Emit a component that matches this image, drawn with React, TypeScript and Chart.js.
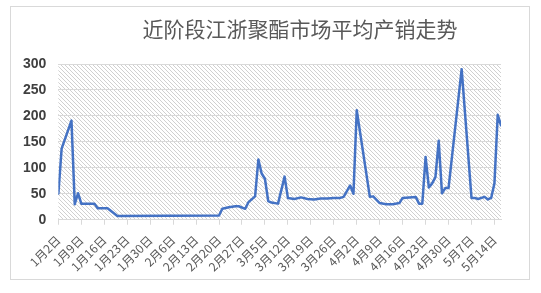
import React, { useEffect, useRef } from 'react';
import { Chart, registerables } from 'chart.js';

Chart.register(...registerables);

const TITLE = '近阶段江浙聚酯市场平均产销走势';
const YEAR = 2020;
const START_LABEL = '1月2日';
const END_LABEL = '5月16日';

const tickLabels = [
  '1月2日', '1月9日', '1月16日', '1月23日', '1月30日', '2月6日', '2月13日',
  '2月20日', '2月27日', '3月5日', '3月12日', '3月19日', '3月26日', '4月2日',
  '4月9日', '4月16日', '4月23日', '4月30日', '5月7日', '5月14日',
];

const yTicks = [0, 50, 100, 150, 200, 250, 300];

const pointDates = [
  '1月2日', '1月3日', '1月6日', '1月7日', '1月8日', '1月9日', '1月13日', '1月14日',
  '1月17日', '1月20日', '2月20日', '2月21日', '2月23日', '2月25日', '2月26日',
  '2月28日', '2月29日', '3月2日', '3月3日', '3月4日', '3月5日', '3月6日', '3月7日',
  '3月9日', '3月11日', '3月12日', '3月14日', '3月16日', '3月18日', '3月20日',
  '3月22日', '3月24日', '3月26日', '3月28日', '3月29日', '3月31日', '4月1日',
  '4月2日', '4月6日', '4月7日', '4月9日', '4月11日', '4月13日', '4月15日',
  '4月16日', '4月18日', '4月20日', '4月21日', '4月22日', '4月23日', '4月24日',
  '4月25日', '4月26日', '4月27日', '4月28日', '4月29日', '4月30日', '5月4日',
  '5月7日', '5月8日', '5月9日', '5月11日', '5月12日', '5月13日', '5月14日',
  '5月15日', '5月16日',
];

const pointValues = [
  50, 137, 191, 30, 51, 31, 31, 22,
  22, 7, 8, 21, 24, 26, 26,
  21, 34, 45, 116, 89, 79, 36, 33,
  31, 83, 42, 40, 43, 40, 39,
  41, 41, 42, 42, 44, 66, 50,
  211, 44, 45, 32, 30, 30, 32,
  42, 43, 44, 31, 31, 121, 62,
  70, 82, 152, 51, 61, 61, 290,
  42, 42, 40, 44, 39, 42, 70,
  202, 182,
];

function dayIndex(label: string): number {
  const m = label.match(/(\d+)月(\d+)日/);
  if (!m) return 0;
  const t = Date.UTC(YEAR, Number(m[1]) - 1, Number(m[2]));
  const t0 = Date.UTC(YEAR, 0, 2);
  return Math.round((t - t0) / 86400000);
}

function makeHatch(): CanvasPattern | string {
  const c = document.createElement('canvas');
  c.width = 4;
  c.height = 4;
  const g = c.getContext('2d');
  if (!g) return '#eeeeee';
  g.fillStyle = '#ffffff';
  g.fillRect(0, 0, 4, 4);
  g.strokeStyle = '#d0d0d0';
  g.lineWidth = 1;
  g.beginPath();
  g.moveTo(-1, -1); g.lineTo(5, 5);
  g.moveTo(-1, 3); g.lineTo(1, 5);
  g.moveTo(3, -1); g.lineTo(5, 1);
  g.stroke();
  const p = g.createPattern(c, 'repeat');
  return p || '#eeeeee';
}

const decorPlugin = {
  id: 'decor',
  beforeDraw(chart: any) {
    const { ctx, chartArea } = chart;
    ctx.save();
    ctx.fillStyle = '#ffffff';
    ctx.fillRect(0, 0, chart.width, chart.height);
    ctx.strokeStyle = '#d9d9d9';
    ctx.lineWidth = 1;
    ctx.strokeRect(10.5, 6.5, 519, 273);
    ctx.fillStyle = makeHatch();
    ctx.fillRect(chartArea.left, chartArea.top, chartArea.right - chartArea.left, chartArea.bottom - chartArea.top);
    ctx.restore();
  },
  afterDraw(chart: any) {
    const { ctx } = chart;
    ctx.save();
    ctx.fillStyle = '#595959';
    ctx.font = '21px "Noto Sans CJK SC"';
    ctx.textAlign = 'center';
    ctx.textBaseline = 'middle';
    ctx.fillText(TITLE, 300, 29);
    ctx.restore();
  },
};

export default function App() {
  const ref = useRef<HTMLCanvasElement | null>(null);

  useEffect(() => {
    if (!ref.current) return;
    const data = pointDates.map((d, i) => ({ x: dayIndex(d), y: pointValues[i] }));
    const chart = new Chart(ref.current, {
      type: 'line',
      data: {
        datasets: [
          {
            data,
            borderColor: '#4472C4',
            borderWidth: 2.5,
            pointRadius: 0,
            tension: 0,
            fill: false,
            borderJoinStyle: 'round',
            borderCapStyle: 'round',
          },
        ],
      },
      options: {
        animation: false,
        responsive: false,
        devicePixelRatio: 1,
        layout: { padding: { left: 11, right: 40, top: 64, bottom: 11 } },
        plugins: {
          legend: { display: false },
          tooltip: { enabled: false },
          title: { display: false },
        },
        scales: {
          x: {
            type: 'linear',
            min: dayIndex(START_LABEL),
            max: dayIndex(END_LABEL),
            afterBuildTicks: (s: any) => {
              s.ticks = tickLabels.map((l) => ({ value: dayIndex(l) }));
            },
            ticks: {
              autoSkip: false,
              maxRotation: 45,
              minRotation: 45,
              padding: 8,
              color: '#595959',
              font: { family: '"Noto Sans CJK SC"', size: 12 },
              callback: (v: any) => {
                const l = tickLabels.find((t) => dayIndex(t) === Number(v));
                return l === undefined ? '' : l;
              },
            },
            grid: {
              drawOnChartArea: false,
              drawTicks: true,
              tickLength: 5,
              color: '#d9d9d9',
            },
            border: { display: true, color: '#d9d9d9', width: 1 },
          },
          y: {
            type: 'linear',
            min: 0,
            max: 300,
            afterBuildTicks: (s: any) => {
              s.ticks = yTicks.map((v) => ({ value: v }));
            },
            ticks: {
              padding: 12,
              color: '#404040',
              font: { family: '"Liberation Sans"', size: 14, weight: 'bold' },
            },
            grid: { color: '#d9d9d9', drawTicks: false },
            border: { display: false },
          },
        },
      },
      plugins: [decorPlugin],
    });
    return () => chart.destroy();
  }, []);

  return (
    <div style={{ position: 'absolute', left: 0, top: 0, width: 541, height: 293 }}>
      <canvas ref={ref} width={541} height={293} style={{ display: 'block' }} />
    </div>
  );
}
